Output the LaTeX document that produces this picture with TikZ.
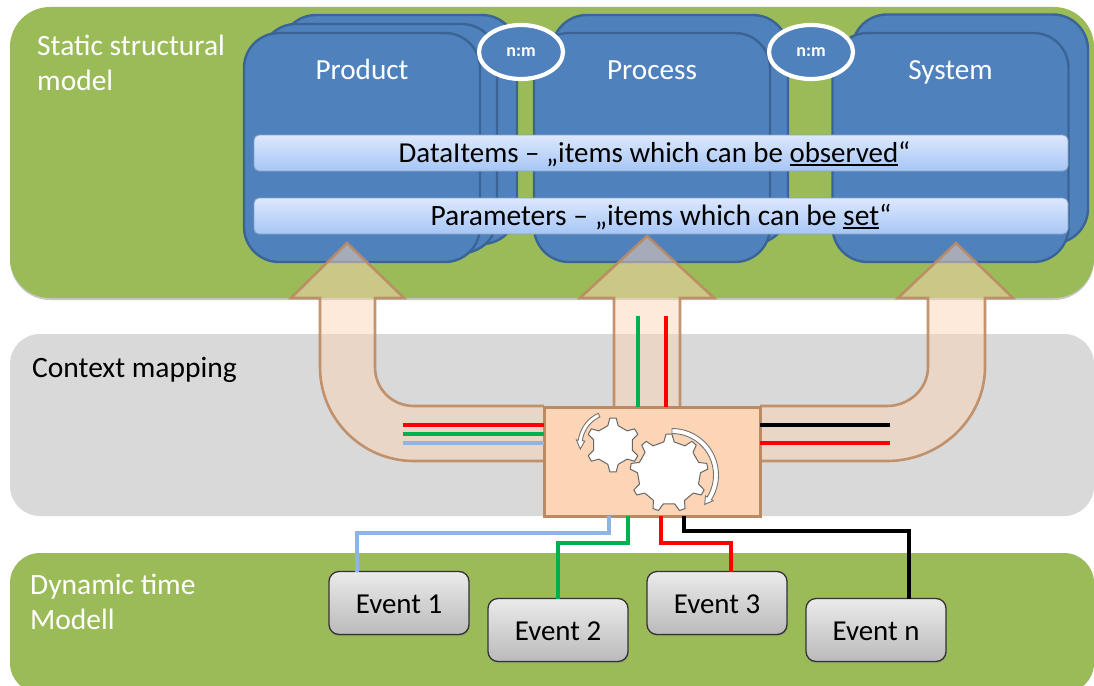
\documentclass[tikz,border=0pt]{standalone}
\usepackage{fontspec}
\setmainfont{Carlito}
\usetikzlibrary{calc,shadows,shapes.geometric}
\definecolor{panelgreen}{HTML}{9BBB59}
\definecolor{panelgray}{HTML}{D9D9D9}
\definecolor{boxblue}{HTML}{4F81BD}
\definecolor{boxblueline}{HTML}{3A6496}
\definecolor{peach}{HTML}{FBD5B5}
\definecolor{peachline}{HTML}{BC8A62}
\definecolor{wireblue}{HTML}{8EB4E3}
\definecolor{wiregreen}{HTML}{00B050}
\definecolor{wirered}{HTML}{FF0000}
\definecolor{barlight}{HTML}{DCE8FD}
\definecolor{bardark}{HTML}{A6C6F6}
\newcommand\myul[1]{\leavevmode\setbox0\hbox{#1}\rlap{\rule[-3.5pt]{\wd0}{1.8pt}}\box0}
\newcommand\mygear[7]{%
  \begin{scope}[shift={(#1,#2)}]
    \draw[gearstyle] ({#3-#7}:#5)
      \foreach \i [evaluate=\i as \a using #3+\i*360/#6] in {0,...,\numexpr#6-1\relax} {
        -- ({\a-#7}:#5) -- ({\a-#7*0.45}:#4) -- ({\a+#7*0.45}:#4) -- ({\a+#7}:#5)
      } -- cycle;
  \end{scope}}
\tikzset{
  x=1pt,y=-1pt,
  panel/.style={fill=#1,draw=none,outer sep=0pt,inner sep=0pt},
  bluebox/.style={draw=boxblueline,line width=2.4pt,fill=boxblue,rounded corners=35pt,minimum width=236pt,minimum height=229pt,inner sep=0pt,outer sep=0pt},
  barbox/.style={draw=boxblueline!60,line width=.9pt,top color=barlight,bottom color=bardark,rounded corners=5pt,minimum width=814pt,minimum height=36pt,inner sep=0pt,text=black,text height=24pt,text depth=6pt},
  nmellipse/.style={ellipse,draw=white,line width=4.2pt,fill=boxblue,minimum width=84pt,minimum height=54pt,inner sep=0pt,text=white,font=\bfseries\fontsize{18}{20}\selectfont},
  titletext/.style={text=white,font=\fontsize{29.2}{32}\selectfont,inner sep=0pt,anchor=base},
  paneltext/.style={font=\fontsize{29.5}{35}\selectfont,align=left,anchor=west,inner sep=0pt},
  bigarrow/.style={draw=peachline,line width=2.6pt,line join=miter,fill=peach,fill opacity=.5,draw opacity=.9},
  hubbox/.style={draw=peachline,line width=3pt,fill=peach,minimum width=216pt,minimum height=109pt,inner sep=0pt,outer sep=0pt},
  eventbox/.style={draw=black!80,line width=1.3pt,top color=black!8,bottom color=black!27,rounded corners=10pt,minimum width=140pt,minimum height=63pt,inner sep=0pt,outer sep=0pt,font=\fontsize{28.9}{32}\selectfont,text height=23pt,text depth=3pt,drop shadow={shadow xshift=.8pt,shadow yshift=-1.5pt,opacity=.35}},
  wire/.style={line width=#1,line join=miter},
  gearstyle/.style={draw=black!60,line width=1pt,fill=white,line join=round},
  turnstyle/.style={draw=black!55,line width=.9pt,fill=white,line join=miter},
}
\begin{document}
\begin{tikzpicture}
\useasboundingbox (0,0) rectangle (1094,685);
\clip (0,0) rectangle (1094,685);
% panels
\node[panel=black!22,rounded corners=40pt,minimum width=1084pt,minimum height=291pt,anchor=north west] (staticshade) at (10,9) {};
\node[panel=panelgreen,rounded corners=40pt,minimum width=1084pt,minimum height=291pt,anchor=north west] (staticpanel) at (10,7) {};
\node[panel=panelgray,rounded corners=30pt,minimum width=1084pt,minimum height=182pt,anchor=north west] (contextpanel) at (10,334) {};
\node[panel=panelgreen,rounded corners=30pt,minimum width=1084pt,minimum height=140pt,anchor=north west] (dynamicpanel) at (10,553) {};
\node[paneltext,text=white] (statictext) at (37,63) {Static structural\\model};
\node[paneltext,text=black] (contexttext) at (32,369.5) {Context mapping};
\node[paneltext,text=white] (dynamictext) at (30,601.5) {Dynamic time\\Modell};
% blue stacks
\node[bluebox] (product3) at (399,129.5) {};
\node[bluebox] (product2) at (379,138.5) {};
\node[bluebox] (product) at (362,147.5) {};
\node[bluebox] (process2) at (670,129.5) {};
\node[bluebox] (process) at (652,147.5) {};
\node[bluebox] (system2) at (970,129) {};
\node[bluebox] (system) at (950.5,147.5) {};
\node[titletext] (producttext) at (362,79) {Product};
\node[titletext] (processtext) at (652,79) {Process};
\node[titletext] (systemtext) at (950.5,79) {System};
% bars
\node[barbox,font=\fontsize{28.9}{32}\selectfont] (databar) at (661,153) {\hspace*{-13pt}DataItems – „items which can be \myul{observed}“};
\node[barbox,font=\fontsize{29.5}{32}\selectfont] (parambar) at (661,216) {Parameters – „items which can be \myul{set}“};
% relation ellipses
\node[nmellipse] (nm1) at (521,52) {n:m};
\node[nmellipse] (nm2) at (811,52) {n:m};
% big arrows
\draw[bigarrow] (544,461) -- (414,461) .. controls (362,461) and (320,419) .. (320,367) -- (320,298) -- (291,298) -- (347,243) -- (404,298) -- (375,298) -- (375,367) .. controls (375,389) and (392,406) .. (414,406) -- (544,406);
\draw[bigarrow] (614,407) -- (614,298) -- (580,298) -- (647,236) -- (714,298) -- (680,298) -- (680,407);
\draw[bigarrow] (760,461) -- (887,461) .. controls (940,461) and (985,419) .. (985,367) -- (985,298) -- (1013,298) -- (956,243) -- (898,298) -- (928,298) -- (928,367) .. controls (928,389) and (909,406) .. (887,406) -- (760,406);
% hub
\node[hubbox] (hub) at (652,461.5) {};
% wires in arrows
\draw[wire=4.5pt,wirered] (hub.west |- 0,425) -- (403,425);
\draw[wire=4.5pt,wiregreen] (hub.west |- 0,434) -- (403,434);
\draw[wire=4.5pt,wireblue] (hub.west |- 0,443) -- (403,443);
\draw[wire=4.5pt,black] (hub.east |- 0,425) -- (890,425);
\draw[wire=4.5pt,wirered] (hub.east |- 0,443) -- (890,443);
\draw[wire=4.5pt,wiregreen] (hub.north -| 638,0) -- (638,316);
\draw[wire=4.5pt,wirered] (hub.north -| 666,0) -- (666,316);
% gears
\mygear{613}{445}{-90}{27}{20}{6}{15}
\mygear{669}{473}{-90}{39}{31.5}{9}{9.5}
\begin{scope}[shift={(613,445)}]
  \draw[turnstyle] plot[domain=-115:-172,samples=16] (\x:35) -- (-172:37) -- (-187:33) -- (-172:28.5) -- (-172:31) -- plot[domain=-172:-115,samples=16] (\x:31) -- cycle;
\end{scope}
\begin{scope}[shift={(672,475)}]
  \draw[turnstyle] plot[domain=-90:32,samples=24] (\x:46.5) -- (32:48.5) -- (42:44) -- (32:39.5) -- (32:41.5) -- plot[domain=32:-90,samples=24] (\x:41.5) -- cycle;
\end{scope}
% events
\node[eventbox] (ev1) at (399,603) {Event 1};
\node[eventbox] (ev2) at (558,630) {Event 2};
\node[eventbox] (ev3) at (717,603) {Event 3};
\node[eventbox] (evn) at (876,630) {Event n};
% connectors
\draw[wire=4.5pt,wireblue] ($(hub.south west)+(65,0)$) -- ++(0,17) -| ($(ev1.north west)+(28,0)$);
\draw[wire=4.5pt,wiregreen] ($(hub.south west)+(84,0)$) -- ++(0,27) -| (ev2.north);
\draw[wire=4.5pt,wirered] ($(hub.south west)+(117,0)$) -- ++(0,27) -| ($(ev3.north west)+(84,0)$);
\draw[wire=4.5pt,black] ($(hub.south west)+(140,0)$) -- ++(0,15) -| ($(evn.north west)+(103,0)$);
\end{tikzpicture}
\end{document}
